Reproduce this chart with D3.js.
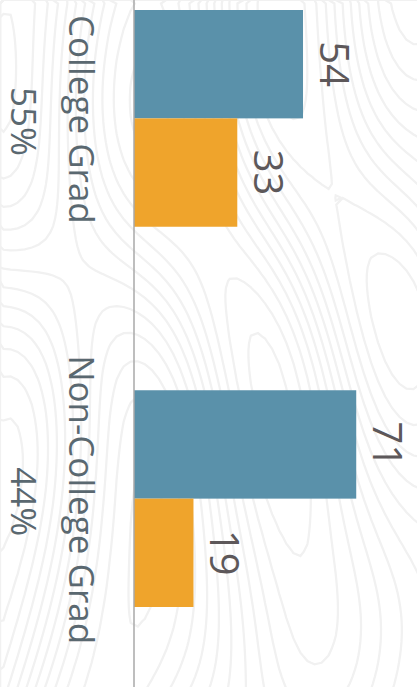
<!DOCTYPE html>
<html>

<head>
    <meta charset='utf-8'>
    <title>College vs Non-College</title>
    <script type='text/javascript' src='https://cdn.jsdelivr.net/npm/d3@7'></script>
    <style>
        body { margin: 0; background: #fff; }
        svg { display: block; }
    </style>
</head>

<body>
    <svg width='417' height='687'></svg>
    <script type='text/javascript'>

        // data
        const categories = ['College Grad', 'Non-College Grad']
        const shares = ['55%', '44%']
        const series = ['blue', 'orange']
        const blueValues = [54, 71]
        const orangeValues = [33, 19]

        const svg = d3.select('svg')
        const width = +svg.attr('width')
        const height = +svg.attr('height')

        // faint topo-map texture in the background (decoration only)
        const gw = 60, gh = 100
        const grid = new Array(gw * gh)
        for (let j = 0; j < gh; j++) {
            for (let i = 0; i < gw; i++) {
                const x = i / gw, y = j / gh
                grid[j * gw + i] = Math.sin(x * 9 + Math.cos(y * 4) * 1.8) + Math.cos(y * 5 + Math.sin(x * 5) * 2) * 0.6
                    + Math.sin((x * 2 + y) * 6) * 0.3
            }
        }
        const contours = d3.contours().size([gw, gh]).thresholds(d3.range(-2, 2, 0.3))(grid)
        svg.append('g')
            .attr('transform', `scale(${width / (gw - 1)},${height / (gh - 1)})`)
            .selectAll('path')
            .data(contours)
            .join('path')
            .attr('d', d3.geoPath())
            .attr('fill', 'none')
            .attr('stroke', '#f1f1f1')
            .attr('stroke-width', 0.32)

        // scales: chart is rotated, categories run down the page, values to the right
        const y0 = d3.scaleBand().domain(categories).range([10, 607]).paddingInner(0.43)
        const y1 = d3.scaleBand().domain(series).range([0, y0.bandwidth()])
        const x = d3.scaleLinear().domain([0, 100]).range([134, 447])
        const color = d3.scaleOrdinal().domain(series).range(['#5a91aa', '#efa42c'])

        const rows = categories.map((c, i) => ({
            cat: c, share: shares[i],
            bars: [{ s: 'blue', v: blueValues[i] }, { s: 'orange', v: orangeValues[i] }]
        }))

        const group = svg.append('g')
            .selectAll('g')
            .data(rows)
            .join('g')
            .attr('transform', d => `translate(0,${y0(d.cat)})`)

        group.selectAll('rect')
            .data(d => d.bars)
            .join('rect')
            .attr('x', x(0))
            .attr('y', d => y1(d.s))
            .attr('width', d => x(d.v) - x(0))
            .attr('height', y1.bandwidth())
            .attr('fill', d => color(d.s))

        // value labels, rotated 90deg
        group.selectAll('text.val')
            .data(d => d.bars)
            .join('text')
            .attr('class', 'val')
            .attr('transform', d => `translate(${x(d.v) + 17},${y1(d.s) + y1.bandwidth() / 2}) rotate(90)`)
            .attr('text-anchor', 'middle')
            .attr('font-family', 'Open Sans')
            .attr('font-size', 40)
            .attr('fill', '#5d585a')
            .text(d => d.v)

        // axis line
        svg.append('line')
            .attr('x1', x(0)).attr('x2', x(0))
            .attr('y1', 0).attr('y2', height)
            .attr('stroke', '#a9a9a9')
            .attr('stroke-width', 1.5)

        // category labels
        svg.append('g')
            .selectAll('text')
            .data(rows)
            .join('text')
            .attr('transform', d => `translate(69,${y0(d.cat) + y0.bandwidth() / 2 + 1}) rotate(90)`)
            .attr('text-anchor', 'middle')
            .attr('font-family', 'Open Sans')
            .attr('font-size', 35)
            .attr('fill', '#5a6870')
            .text(d => d.cat)

        svg.append('g')
            .selectAll('text')
            .data(rows)
            .join('text')
            .attr('transform', d => `translate(11,${y0(d.cat) + y0.bandwidth() / 2 + 3}) rotate(90)`)
            .attr('text-anchor', 'middle')
            .attr('font-family', 'Open Sans')
            .attr('font-size', 35)
            .attr('fill', '#5a6870')
            .text(d => d.share)
    </script>
</body>

</html>
